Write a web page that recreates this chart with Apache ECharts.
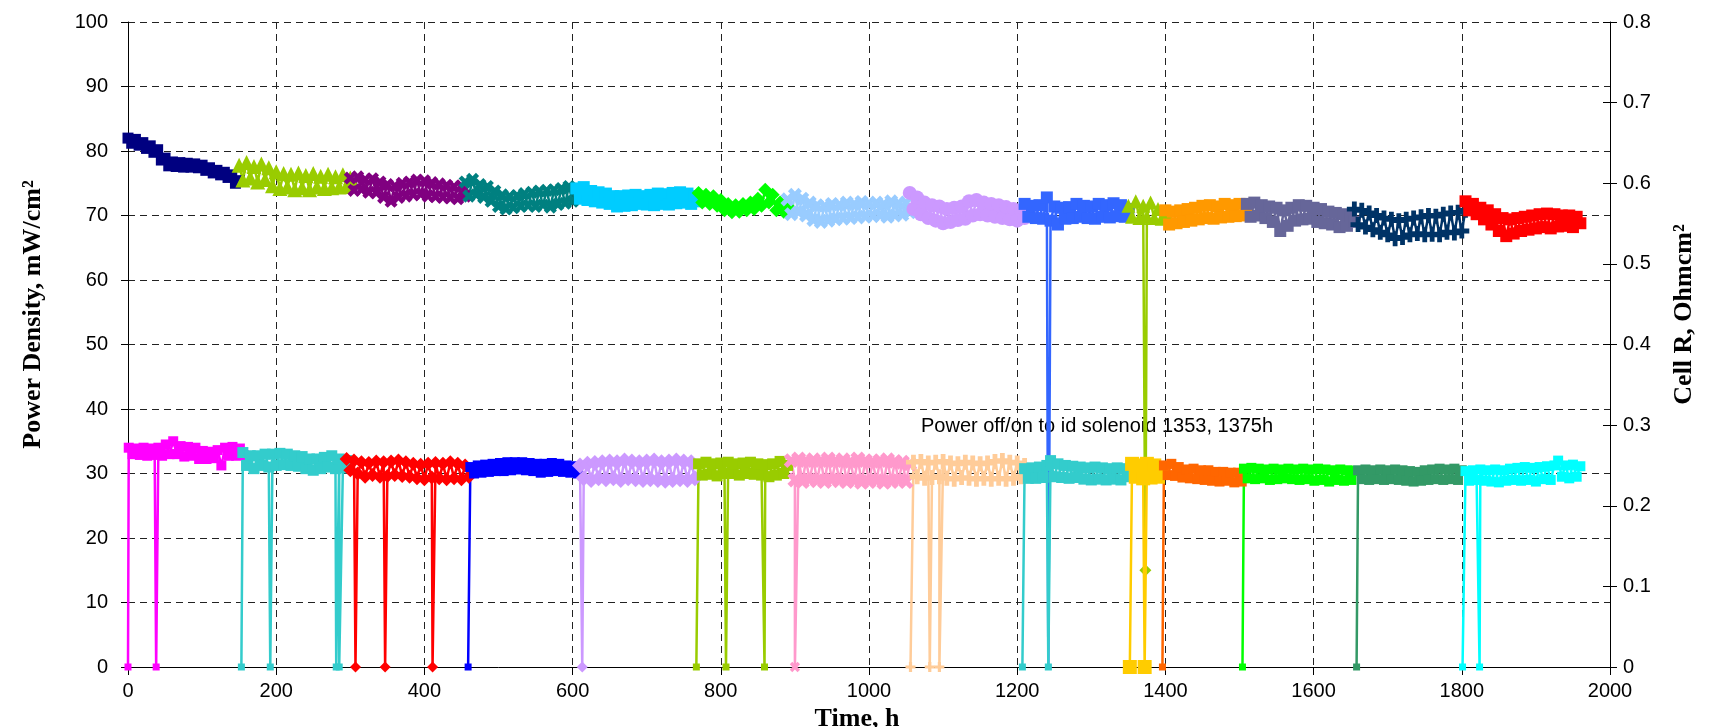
<!DOCTYPE html>
<html>
<head>
<meta charset="utf-8">
<script src="https://cdn.jsdelivr.net/npm/echarts@6/dist/echarts.min.js"></script>
<style>
html,body{margin:0;padding:0;background:#fff;}
#chart{width:1712px;height:727px;}
</style>
</head>
<body>
<div id="chart"></div>
<script>
// ---------- Axis ticks ----------
const xTicks = { min: 0, max: 2000, interval: 200 };
const pdTicks = { min: 0, max: 100, interval: 10 };
const crTicks = { min: 0, max: 0.8, interval: 0.1 };

// ---------- Power density segments (mW/cm²), one reading every 5 h from the start time ----------
const pdStart = [0, 150, 300, 455, 605, 770, 890, 1055, 1210, 1350, 1400, 1510, 1655, 1805];
const pd01 = [82.0,81.2,81.8,80.9,81.3,80.4,80.8,79.8,80.2,78.6,78.9,77.7,78.3,77.6,78.2,77.5,78.1,77.5,78.0,77.4,77.8,77.0,77.4,76.6,77.0,76.3,76.7,75.9,76.3,75.0,75.4];
const pd02 = [77.8,75.5,78.2,75.8,77.6,75.2,78.0,75.6,77.4,74.6,76.8,74.2,76.5,74.4,76.4,74.0,76.6,74.3,76.2,74.0,76.5,74.4,76.1,74.2,76.4,74.3,76.0,74.4,76.3,74.5,75.8];
const pd03 = [75.8,73.9,76.0,74.0,75.6,73.6,75.7,73.5,75.2,72.8,74.8,72.2,74.6,72.8,75.0,73.0,75.2,73.2,75.5,73.3,75.4,73.0,75.1,72.9,74.9,72.8,74.7,72.7,74.5,72.6,74.6,73.0];
const pd04 = [75.2,73.0,75.6,73.2,74.8,72.8,74.5,72.2,73.8,71.4,73.2,71.0,73.0,71.2,73.1,71.4,73.4,71.5,73.6,71.4,73.8,71.6,73.9,71.3,74.0,71.7,74.2,71.9,74.5,72.2,74.0];
const pd05 = [74.2,72.6,74.4,72.4,73.8,72.2,73.6,72.0,73.4,71.8,73.0,71.4,73.0,71.5,73.1,71.6,73.2,71.8,73.0,71.7,73.2,71.6,73.4,71.8,73.3,71.7,73.5,71.9,73.6,72.0,73.4,71.8,73.0,72.2];
const pd06 = [73.5,72.0,73.2,71.8,73.0,71.5,72.4,70.8,71.8,70.5,71.6,70.6,71.8,70.8,72.0,71.0,72.6,71.5,74.0,72.0,73.2,70.8,72.0,70.6,71.5];
const pd07 = [72.5,70.2,73.2,70.5,72.6,70.0,72.0,69.3,71.6,69.0,71.5,69.2,71.8,69.4,71.7,69.5,72.0,69.6,71.8,69.7,72.1,69.8,71.9,69.9,72.0,70.0,71.8,69.8,72.2,70.0,71.9,70.1,72.0,70.5];
const pd08 = [73.5,71.0,72.8,70.2,72.0,69.6,71.6,69.2,71.4,68.8,71.0,69.0,71.2,69.3,71.4,69.5,72.2,70.0,72.4,70.2,72.0,70.0,71.8,69.8,71.6,69.6,71.3,69.4,71.0,69.2,70.8,69.6];
const pd09 = [71.8,69.8,71.5,69.6,71.6,69.5,72.8,69.2,71.4,68.6,71.2,69.5,71.3,69.6,71.8,69.8,71.5,69.6,71.4,69.5,71.8,69.8,71.6,69.7,71.9,69.9,71.6,69.8,71.0];
const pd10 = [71.5,69.8,72.2,69.6,71.5,69.8,72.0,69.6,71.0,69.5,70.5];
const pd11 = [70.8,68.6,70.6,68.8,70.8,69.0,71.0,69.2,71.2,69.4,71.5,69.6,71.6,69.5,71.4,69.7,71.8,69.8,71.6,69.9,71.8,70.0,71.2];
const pd12 = [71.8,69.8,72.0,70.0,71.6,69.6,71.4,69.0,71.2,67.6,70.8,68.4,71.2,69.2,71.6,69.4,71.5,69.5,71.2,69.0,71.0,68.8,70.6,68.6,70.4,68.2,70.2,68.4,70.0,69.0];
const pd13 = [71.0,68.6,70.8,68.2,70.4,67.8,70.0,67.4,69.6,67.0,69.4,66.4,69.2,66.6,69.4,67.0,69.6,67.2,69.8,67.0,70.0,67.1,69.9,67.0,70.2,67.4,70.4,67.3,70.5,67.6,70.8];
const pd14 = [72.2,70.8,71.8,70.2,71.2,69.4,70.8,68.6,70.2,67.6,69.6,66.8,69.4,67.2,69.6,67.6,69.8,67.8,70.0,68.0,70.2,68.2,70.3,68.0,70.2,68.3,70.0,68.4,70.0,68.2,69.8,68.8];
// interruptions in the power-density record: [time h, value]
const pdDips = [[],[],[],[],[],[],[],[],[[1242,0]],[[1373,15]],[],[],[],[]];

// ---------- Cell R segments (Ohm cm²), one reading every 5 h from the start time ----------
const crStart = [1, 155, 295, 462, 610, 770, 895, 1060, 1210, 1355, 1398, 1506, 1660, 1805];
const cr01 = [0.272,0.264,0.271,0.263,0.272,0.262,0.271,0.263,0.272,0.262,0.276,0.264,0.280,0.264,0.274,0.261,0.273,0.262,0.272,0.258,0.268,0.258,0.267,0.259,0.269,0.250,0.272,0.262,0.273,0.262,0.271,0.263];
const cr02 = [0.266,0.250,0.262,0.246,0.262,0.250,0.264,0.248,0.264,0.250,0.265,0.251,0.264,0.250,0.262,0.249,0.261,0.246,0.258,0.244,0.258,0.246,0.260,0.248,0.262,0.246,0.258,0.247,0.256];
const cr03 = [0.258,0.244,0.256,0.240,0.254,0.236,0.253,0.238,0.255,0.236,0.254,0.237,0.255,0.238,0.256,0.237,0.254,0.236,0.252,0.234,0.251,0.233,0.252,0.235,0.253,0.234,0.252,0.233,0.254,0.234,0.252,0.233,0.250,0.236];
const cr04 = [0.248,0.240,0.250,0.241,0.251,0.242,0.252,0.243,0.253,0.243,0.254,0.244,0.254,0.245,0.254,0.244,0.253,0.243,0.252,0.241,0.252,0.242,0.253,0.243,0.252,0.242,0.250,0.241,0.249,0.240];
const cr05 = [0.250,0.234,0.252,0.232,0.253,0.234,0.254,0.233,0.255,0.234,0.254,0.232,0.256,0.234,0.255,0.233,0.254,0.232,0.255,0.233,0.256,0.232,0.254,0.231,0.255,0.232,0.256,0.233,0.255,0.232,0.254,0.234];
const cr06 = [0.252,0.238,0.254,0.239,0.252,0.237,0.253,0.240,0.254,0.240,0.252,0.238,0.253,0.240,0.254,0.239,0.252,0.238,0.251,0.236,0.252,0.238,0.255,0.240,0.250];
const cr07 = [0.256,0.232,0.258,0.230,0.256,0.232,0.257,0.231,0.256,0.230,0.258,0.232,0.256,0.231,0.257,0.230,0.255,0.231,0.258,0.229,0.256,0.230,0.255,0.231,0.256,0.229,0.257,0.230,0.255,0.231,0.254,0.230,0.252];
const cr08 = [0.254,0.236,0.255,0.234,0.253,0.235,0.254,0.236,0.255,0.234,0.253,0.233,0.252,0.235,0.254,0.234,0.253,0.233,0.252,0.234,0.253,0.233,0.255,0.234,0.256,0.233,0.254,0.234,0.253,0.236,0.250];
const cr09 = [0.246,0.234,0.247,0.234,0.248,0.235,0.250,0.256,0.236,0.252,0.235,0.250,0.234,0.249,0.235,0.248,0.233,0.247,0.232,0.248,0.233,0.247,0.232,0.246,0.233,0.247,0.232,0.246,0.236];
const cr10 = [0.252,0.236,0.250,0.234,0.252,0.235,0.250,0.236,0.244];
const cr11 = [0.250,0.238,0.252,0.237,0.248,0.235,0.245,0.234,0.246,0.233,0.244,0.232,0.244,0.231,0.242,0.230,0.242,0.231,0.241,0.229,0.241,0.230];
const cr12 = [0.246,0.234,0.247,0.233,0.246,0.234,0.245,0.232,0.246,0.233,0.245,0.234,0.246,0.233,0.245,0.232,0.246,0.233,0.245,0.231,0.246,0.232,0.245,0.230,0.244,0.232,0.245,0.231,0.244,0.232,0.243];
const cr13 = [0.244,0.233,0.245,0.232,0.244,0.233,0.245,0.232,0.244,0.233,0.245,0.232,0.244,0.231,0.243,0.230,0.242,0.231,0.244,0.232,0.245,0.233,0.246,0.232,0.245,0.233,0.246,0.232,0.244];
const cr14 = [0.243,0.231,0.244,0.232,0.245,0.231,0.244,0.230,0.245,0.229,0.244,0.231,0.246,0.232,0.247,0.231,0.248,0.232,0.247,0.230,0.248,0.233,0.249,0.232,0.250,0.256,0.236,0.250,0.234,0.251,0.236,0.249];
// times (h) at which Cell R reading dropped to zero
const crDrops = [[0,38],[153,192,281,285],[307,347,411],[459],[613],[767,807,859],[900],[1056,1082,1095],[1207,1242],[1352,1372],[1396],[1504],[1658],[1801,1824]];

// ---------- styles: [colour, marker, marker size, rotation, marker size at zero] ----------
const PLUS = 'path://M3.4,0H6.6V3.4H10V6.6H6.6V10H3.4V6.6H0V3.4H3.4Z';
const pdStyle = [
  ['#000080','rect',11,0],['#99CC00','triangle',15,0],['#800080',PLUS,14,45],['#008080',PLUS,14,45],
  ['#00CCFF','rect',12,0],['#00FF00','diamond',14,0],['#99CCFF',PLUS,15,45],['#CC99FF','circle',14,0],
  ['#3366FF','rect',12,0],['#99CC00','triangle',14,0],['#FF9900','rect',12,0],['#666699','rect',12,0],
  ['#003366',PLUS,15,0],['#FF0000','rect',12,0]
];
const crStyle = [
  ['#FF00FF','rect',10,0,7],['#33CCCC','rect',11,0,7],['#FF0000','diamond',14,0,11],['#0000FF','rect',10,0,7],
  ['#CC99FF','diamond',16,0,11],['#99CC00','rect',11,0,7],['#FF99CC',PLUS,16,45,11],['#FFCC99',PLUS,15,0,10],
  ['#33CCCC','rect',11,0,7],['#FFCC00','rect',14,0,14],['#FF6600','rect',10,0,7],['#00FF00','rect',10,0,7],
  ['#339966','rect',10,0,7],['#00FFFF','rect',10,0,7]
];

const pdVals = [pd01,pd02,pd03,pd04,pd05,pd06,pd07,pd08,pd09,pd10,pd11,pd12,pd13,pd14];
const crVals = [cr01,cr02,cr03,cr04,cr05,cr06,cr07,cr08,cr09,cr10,cr11,cr12,cr13,cr14];
const STEP = 5;

function buildPoints(start, vals, extra) {
  const pts = vals.map((v, i) => [start + i * STEP, v]);
  extra.forEach(p => pts.push(p));
  pts.sort((a, b) => a[0] - b[0]);
  return pts;
}

const series = [];
pdVals.forEach((vals, k) => {
  const st = pdStyle[k];
  const pts = buildPoints(pdStart[k], vals, pdDips[k]).map(p =>
    (p[1] > 0 && p[1] < 40) ? { value: p, symbol: 'diamond', symbolSize: 12 } :
    (p[1] === 0 ? { value: p, symbolSize: 6 } : p));
  series.push({
    type: 'line', name: 'Power density ' + (k + 1), xAxisIndex: 0, yAxisIndex: 0,
    data: pts, symbol: st[1], symbolSize: st[2], symbolRotate: st[3],
    lineStyle: { color: st[0], width: 2.5 }, itemStyle: { color: st[0] },
    z: 2, silent: true, emphasis: { disabled: true }
  });
});
crVals.forEach((vals, k) => {
  const st = crStyle[k];
  const pts = buildPoints(crStart[k], vals, crDrops[k].map(t => [t, 0])).map(p =>
    p[1] === 0 ? { value: p, symbolSize: st[4] } : p);
  series.push({
    type: 'line', name: 'Cell R ' + (k + 1), xAxisIndex: 0, yAxisIndex: 1,
    data: pts, symbol: st[1], symbolSize: st[2], symbolRotate: st[3],
    lineStyle: { color: st[0], width: 2.5 }, itemStyle: { color: st[0] },
    z: 3, silent: true, emphasis: { disabled: true }, clip: false
  });
});

const tickFont = { fontFamily: '"Liberation Sans", Arial, sans-serif', fontSize: 20, color: '#000' };
const titleFont = { fontFamily: '"Liberation Serif", "Times New Roman", serif', fontSize: 26, fontWeight: 'bold', color: '#000' };
const gridLine = { show: true, lineStyle: { color: '#222', width: 1, type: [7, 5] } };
const blackLine = { show: true, onZero: false, lineStyle: { color: '#000', width: 1 } };
const GRID_LEFT = 128, GRID_RIGHT = 102, CHART_W = 1712;

const chart = echarts.init(document.getElementById('chart'), null, { renderer: 'canvas' });
chart.setOption({
  animation: false,
  backgroundColor: '#fff',
  grid: { left: GRID_LEFT, right: GRID_RIGHT, top: 22, bottom: 60, containLabel: false, outerBoundsMode: 'none' },
  xAxis: {
    type: 'value', min: xTicks.min, max: xTicks.max, interval: xTicks.interval,
    name: 'Time, h', nameLocation: 'middle', nameGap: 33,
    nameTextStyle: Object.assign({}, titleFont, { padding: [0, 24, 0, 0] }),
    axisLine: blackLine, axisTick: { show: true, inside: false, length: 8, lineStyle: { color: '#000' } },
    axisLabel: Object.assign({ margin: 14, formatter: v => String(v) }, tickFont), splitLine: gridLine
  },
  yAxis: [
    {
      type: 'value', position: 'left', min: pdTicks.min, max: pdTicks.max, interval: pdTicks.interval,
      name: 'Power Density, mW/cm²', nameLocation: 'middle', nameGap: 82, nameRotate: 90,
      nameTextStyle: Object.assign({}, titleFont, { padding: [0, 0, 0, 60] }),
      axisLine: blackLine, axisTick: { show: true, inside: false, length: 7, lineStyle: { color: '#000' } },
      axisLabel: Object.assign({ margin: 20 }, tickFont), splitLine: gridLine
    },
    {
      type: 'value', position: 'right', min: crTicks.min, max: crTicks.max, interval: crTicks.interval,
      name: 'Cell R, Ohmcm²', nameLocation: 'middle', nameGap: 61, nameRotate: 90,
      nameTextStyle: Object.assign({}, titleFont, { padding: [0, 0, 0, 60] }),
      axisLine: blackLine, axisTick: { show: true, inside: true, length: 7, lineStyle: { color: '#000' } },
      axisLabel: Object.assign({ margin: 13 }, tickFont), splitLine: { show: false }
    },
    {
      // companion of the right axis: draws the outer half of its crossing ticks
      type: 'value', position: 'left', offset: -(CHART_W - GRID_LEFT - GRID_RIGHT),
      min: crTicks.min, max: crTicks.max, interval: crTicks.interval,
      axisLine: { show: false }, axisTick: { show: true, inside: true, length: 7, lineStyle: { color: '#000' } },
      axisLabel: { show: false }, splitLine: { show: false }
    }
  ],
  graphic: [{
    type: 'text', left: 921, top: 416, silent: true,
    style: { text: 'Power off/on to id solenoid 1353, 1375h', font: '20px "Liberation Sans", Arial, sans-serif', fill: '#000' }
  }],
  series: series
});
</script>
</body>
</html>
